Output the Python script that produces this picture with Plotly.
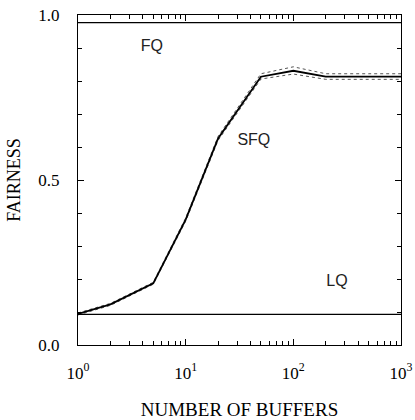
import plotly.graph_objects as go

buffers = [1, 2, 5, 10, 20, 50, 100, 200, 500, 1000]
sfq = [0.094, 0.123, 0.187, 0.38, 0.626, 0.813, 0.831, 0.813, 0.813, 0.813]
sfq_hi = [0.097, 0.126, 0.190, 0.385, 0.632, 0.822, 0.843, 0.822, 0.822, 0.822]
sfq_lo = [0.091, 0.120, 0.184, 0.375, 0.620, 0.806, 0.821, 0.805, 0.805, 0.805]
fq_x = [1, 1000]
fq = [0.977, 0.977]
lq_x = [1, 1000]
lq = [0.093, 0.093]

labels = ["FQ", "SFQ", "LQ"]
label_x = [4.86, 43, 254]
label_y = [0.903, 0.618, 0.19]

minor_x = [m * d for d in (1, 10, 100) for m in range(2, 10)]

fig = go.Figure()
fig.add_trace(go.Scatter(x=buffers, y=sfq_hi, mode="lines",
                         line=dict(color="#555", width=1, dash="dot"), showlegend=False))
fig.add_trace(go.Scatter(x=buffers, y=sfq_lo, mode="lines",
                         line=dict(color="#555", width=1, dash="dot"), showlegend=False))
fig.add_trace(go.Scatter(x=buffers, y=sfq, mode="lines",
                         line=dict(color="black", width=1.8), showlegend=False))
fig.add_trace(go.Scatter(x=fq_x, y=fq, mode="lines",
                         line=dict(color="black", width=1.3), showlegend=False))
fig.add_trace(go.Scatter(x=lq_x, y=lq, mode="lines",
                         line=dict(color="black", width=1.3), showlegend=False))
fig.add_trace(go.Scatter(x=label_x, y=label_y, mode="text", text=labels,
                         textfont=dict(family="Liberation Sans", size=16, color="#222"),
                         showlegend=False))

fig.update_layout(
    width=415, height=420,
    margin=dict(l=78, r=14, t=15, b=75),
    paper_bgcolor="white", plot_bgcolor="white",
    font=dict(family="Liberation Serif", color="black", size=15),
)
fig.update_xaxes(
    type="log", range=[0, 3], automargin=False,
    tickmode="array",
    tickvals=[1, 10, 100, 1000],
    ticktext=["10<sup>0</sup>", "10<sup>1</sup>", "10<sup>2</sup>", "10<sup>3</sup>"],
    ticks="inside", ticklen=6, tickwidth=1, tickcolor="black",
    minor=dict(ticks="inside", ticklen=4, tickmode="array", tickvals=minor_x,
               tickcolor="black", showgrid=False),
    showline=True, linecolor="black", linewidth=1.3, mirror="ticks",
    showgrid=False, zeroline=False, ticklabelstandoff=12,
    ticklabeloverflow="allow",
    title=dict(text="NUMBER OF BUFFERS", font=dict(size=19), standoff=24),
    tickfont=dict(size=17),
)
fig.update_yaxes(
    range=[0, 1], automargin=False,
    tickvals=[0, 0.5, 1.0], ticktext=["0.0", "0.5", "1.0"],
    ticks="inside", ticklen=6, tickwidth=1, tickcolor="black",
    minor=dict(ticks="inside", ticklen=4, dtick=0.1, tickcolor="black", showgrid=False),
    showline=True, linecolor="black", linewidth=1.3, mirror="ticks",
    showgrid=False, zeroline=False, ticklabelstandoff=14,
    ticklabeloverflow="allow",
    title=dict(text="FAIRNESS", font=dict(size=18), standoff=12),
    tickfont=dict(size=17),
)

fig.write_html(
    "out.html",
    config={"displayModeBar": False},
    post_script="document.body.style.margin='0';document.body.style.overflow='hidden';",
)
